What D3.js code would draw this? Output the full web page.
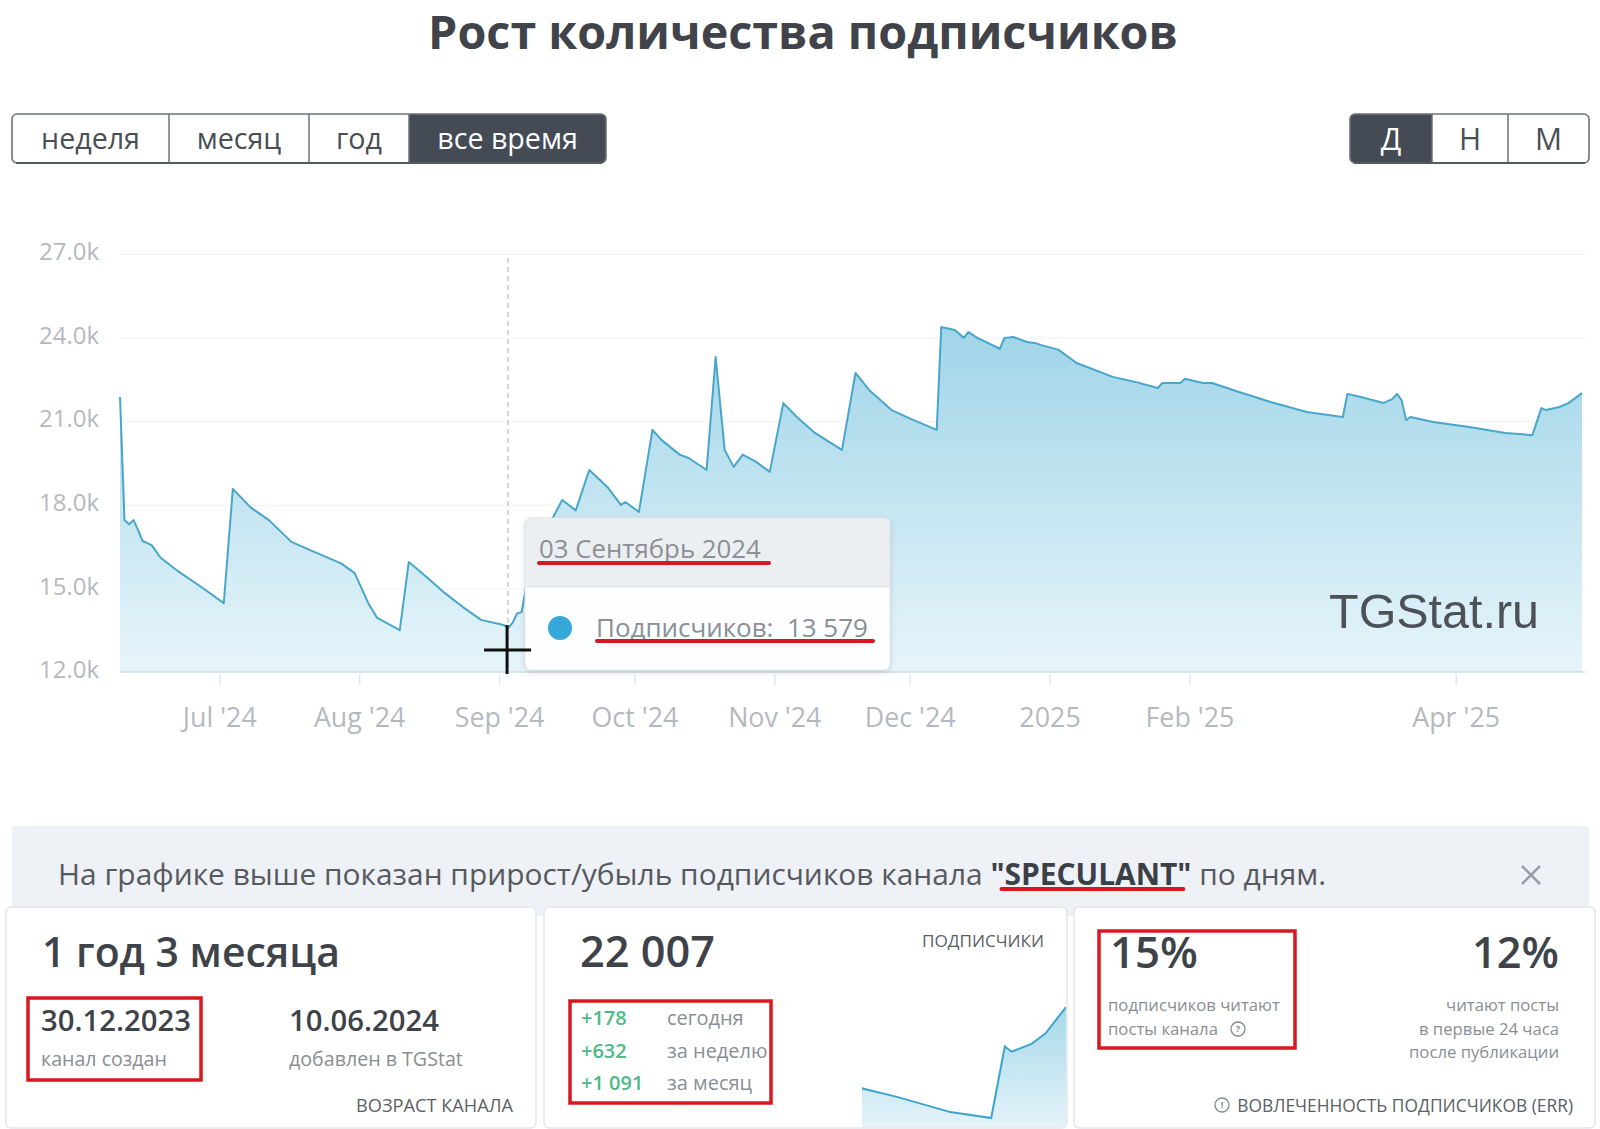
<!DOCTYPE html>
<html><head><meta charset="utf-8">
<script src="https://cdn.jsdelivr.net/npm/d3@7"></script>
<style>
html,body{margin:0;padding:0;background:#fff;overflow:hidden;}
svg{display:block;font-family:"Open Sans","Noto Sans",sans-serif;}
</style></head><body>
<svg id="chart" width="1600" height="1129"></svg>
<script>
// ---------- DATA ----------
const chartTitle = "Рост количества подписчиков";
const rangeButtons = ["неделя", "месяц", "год", "все время"];
const activeRange = "все время";
const periodButtons = ["Д", "Н", "М"];
const activePeriod = "Д";

const dates = [
  "2024-06-09","2024-06-10","2024-06-11","2024-06-12","2024-06-13","2024-06-14","2024-06-16","2024-06-18",
  "2024-06-22","2024-06-27","2024-07-02","2024-07-04","2024-07-08","2024-07-12","2024-07-17","2024-07-21",
  "2024-07-28","2024-07-31","2024-08-03","2024-08-05","2024-08-10","2024-08-12","2024-08-16","2024-08-20",
  "2024-08-24","2024-08-28","2024-09-02","2024-09-03","2024-09-04","2024-09-05","2024-09-06","2024-09-07",
  "2024-09-09","2024-09-11","2024-09-13","2024-09-15","2024-09-18","2024-09-21","2024-09-25","2024-09-28",
  "2024-09-29","2024-10-02","2024-10-05","2024-10-07","2024-10-11","2024-10-13","2024-10-17","2024-10-19",
  "2024-10-21","2024-10-23","2024-10-25","2024-10-28","2024-10-31","2024-11-03","2024-11-06","2024-11-10",
  "2024-11-16","2024-11-19","2024-11-22","2024-11-27","2024-12-01","2024-12-07","2024-12-08","2024-12-11",
  "2024-12-13","2024-12-14","2024-12-16","2024-12-21","2024-12-22","2024-12-24","2024-12-27","2024-12-29",
  "2024-12-30","2025-01-03","2025-01-07","2025-01-15","2025-01-20","2025-01-25","2025-01-26","2025-01-30",
  "2025-01-31","2025-02-04","2025-02-06","2025-02-12","2025-02-19","2025-02-27","2025-03-07","2025-03-08",
  "2025-03-11","2025-03-16","2025-03-18","2025-03-19","2025-03-20","2025-03-21","2025-03-22","2025-03-27",
  "2025-04-04","2025-04-12","2025-04-18","2025-04-20","2025-04-21","2025-04-24","2025-04-26","2025-04-29"
];
const subscribers = [
  21870,17450,17300,17450,17100,16700,16550,16100,
  15600,15050,14470,18570,17900,17450,16670,16380,
  15900,15550,14480,13940,13500,15950,15400,14830,
  14330,13870,13690,13579,13760,14100,14150,15050,
  16200,17000,17560,18170,17800,19250,18640,18000,
  18100,17740,20690,20330,19800,19680,19250,23300,
  19970,19360,19800,19540,19180,21650,21150,20580,
  19970,22730,22120,21400,21100,20690,24380,24270,
  23990,24200,23990,23600,23990,24020,23840,23800,
  23740,23560,23090,22590,22410,22190,22370,22370,
  22520,22370,22370,22050,21690,21330,21150,21980,
  21870,21650,21800,21980,21760,21040,21150,20970,
  20790,20580,20500,21470,21400,21510,21650,22007
];
const yTickValues = [12000, 15000, 18000, 21000, 24000, 27000];
const xTickDates = ["2024-07-01","2024-08-01","2024-09-01","2024-10-01","2024-11-01","2024-12-01","2025-01-01","2025-02-01","2025-04-01"];
const xTickLabels = ["Jul '24","Aug '24","Sep '24","Oct '24","Nov '24","Dec '24","2025","Feb '25","Apr '25"];

const tooltipDate = "2024-09-03";
const tooltipHeader = "03 Сентябрь 2024";
const tooltipSeriesName = "Подписчиков:";
const watermark = "TGStat.ru";

const infoPrefix = "На графике выше показан прирост/убыль подписчиков канала ";
const channelName = "SPECULANT";
const infoSuffix = " по дням.";

const ageValue = "1 год 3 месяца";
const createdDate = "30.12.2023";
const createdLabel = "канал создан";
const addedDate = "10.06.2024";
const addedLabel = "добавлен в TGStat";
const ageCaption = "ВОЗРАСТ КАНАЛА";

const subsCaption = "ПОДПИСЧИКИ";
const growthValues = ["+178", "+632", "+1 091"];
const growthLabels = ["сегодня", "за неделю", "за месяц"];
const sparkStart = "2025-03-30";

const errValue = "15%";
const errLines = ["подписчиков читают", "посты канала"];
const err24Value = "12%";
const err24Lines = ["читают посты", "в первые 24 часа", "после публикации"];
const errCaption = "ВОВЛЕЧЕННОСТЬ ПОДПИСЧИКОВ (ERR)";

// ---------- HELPERS ----------
const svg = d3.select("#chart");
const defs = svg.append("defs");
function fit(sel, target) {
  const fs = +sel.attr("font-size");
  const w = sel.node().getComputedTextLength();
  const nf = fs * target / w;
  sel.attr("font-size", nf);
  return nf;
}
const RED = "#d7181f";
const parse = d3.utcParse("%Y-%m-%d");
const series = dates.map((d, i) => ({date: parse(d), value: subscribers[i]}));

// ---------- TITLE ----------
const t = svg.append("text").attr("x", 803).attr("y", 49).attr("text-anchor", "middle")
  .attr("font-size", 44).attr("font-weight", 700).attr("fill", "#404349").text(chartTitle);
fit(t, 750);

// ---------- BUTTONS ----------
function buttonGroup(labels, active, edges, id, textBaseline) {
  const g = svg.append("g");
  const top = 114, h = 49;
  defs.append("clipPath").attr("id", id).append("rect")
    .attr("x", edges[0]).attr("y", top).attr("width", edges[edges.length-1]-edges[0]).attr("height", h).attr("rx", 5);
  const inner = g.append("g").attr("clip-path", `url(#${id})`);
  labels.forEach((lab, i) => {
    inner.append("rect").attr("x", edges[i]).attr("y", top).attr("width", edges[i+1]-edges[i]).attr("height", h)
      .attr("fill", lab === active ? "#444b55" : "#fff");
    if (i > 0) inner.append("line").attr("x1", edges[i]).attr("x2", edges[i]).attr("y1", top).attr("y2", top+h)
      .attr("stroke", "#6d7178").attr("stroke-width", 1.5);
  });
  g.append("rect").attr("x", edges[0]).attr("y", top).attr("width", edges[edges.length-1]-edges[0]).attr("height", h)
    .attr("rx", 5).attr("fill", "none").attr("stroke", "#6d7178").attr("stroke-width", 1.6);
  g.append("line").attr("x1", edges[0]+4).attr("x2", edges[edges.length-1]-4).attr("y1", top+h).attr("y2", top+h)
    .attr("stroke", "#55595f").attr("stroke-width", 2);
  const texts = labels.map((lab, i) => g.append("text").attr("x", (edges[i]+edges[i+1])/2).attr("y", textBaseline)
    .attr("text-anchor", "middle").attr("font-size", 28).attr("fill", lab === active ? "#fff" : "#4a4e55").text(lab));
  return texts;
}
const lt = buttonGroup(rangeButtons, activeRange, [12, 169, 309, 409, 606], "clipL", 149);
const bfs = fit(lt[0], 99);
lt.forEach(s => s.attr("font-size", bfs));
const rt = buttonGroup(periodButtons, activePeriod, [1350, 1432, 1508, 1589], "clipR", 150);
rt.forEach(s => s.attr("font-size", bfs * 1.05));

// ---------- MAIN CHART ----------
const X0 = 120, X1 = 1582, Y0 = 672, Y1 = 254;
const x = d3.scaleUtc().domain(d3.extent(series, d => d.date)).range([X0, X1]);
const y = d3.scaleLinear().domain([12000, 27000]).range([Y0, Y1]);

const grad = defs.append("linearGradient").attr("id", "areaGrad").attr("gradientUnits", "userSpaceOnUse")
  .attr("x1", 0).attr("x2", 0).attr("y1", 300).attr("y2", Y0);
grad.append("stop").attr("offset", 0).attr("stop-color", "#9ad2e7");
grad.append("stop").attr("offset", 1).attr("stop-color", "#e7f5fa");

// gridlines + y labels
const yAxis = svg.append("g").attr("transform", `translate(${X0},0)`)
  .call(d3.axisLeft(y).tickValues(yTickValues).tickSize(-(1585 - X0)).tickPadding(21)
    .tickFormat(d => (d / 1000).toFixed(1) + "k"));
yAxis.select(".domain").remove();
yAxis.selectAll(".tick line").attr("stroke", "#f1f2f4").attr("stroke-width", 1);
yAxis.selectAll(".tick text").attr("fill", "#b5b9bf").attr("font-size", 20).attr("y", -2)
  .attr("font-family", "'Open Sans',sans-serif");
const yfs = fit(yAxis.select(".tick:last-of-type text"), 60);
yAxis.selectAll(".tick text").attr("font-size", yfs);

// area + line
svg.append("path").datum(series).attr("fill", "url(#areaGrad)")
  .attr("d", d3.area().x(d => x(d.date)).y0(Y0).y1(d => y(d.value)));
svg.append("path").datum(series).attr("fill", "none").attr("stroke", "#47a6c9").attr("stroke-width", 2)
  .attr("stroke-linejoin", "round")
  .attr("d", d3.line().x(d => x(d.date)).y(d => y(d.value)));

// x axis
const xAxis = svg.append("g").attr("transform", `translate(0,${Y0})`)
  .call(d3.axisBottom(x).tickValues(xTickDates.map(parse)).tickSize(13)
    .tickFormat((d, i) => xTickLabels[i]));
xAxis.select(".domain").attr("stroke", "#dde3ea").attr("stroke-width", 2).attr("d", `M${X0},0H${1585}`);
xAxis.selectAll(".tick line").attr("stroke", "#e3e6ea").attr("stroke-width", 1.5).attr("y1", 2);
xAxis.selectAll(".tick text").attr("fill", "#b5b9bf").attr("font-size", 22).attr("y", 36)
  .attr("font-family", "'Open Sans',sans-serif");
const xfs = fit(xAxis.select(".tick text"), 74);
xAxis.selectAll(".tick text").attr("font-size", xfs);

// watermark
const wm = svg.append("text").attr("x", 1539).attr("y", 628).attr("text-anchor", "end")
  .attr("font-family", "'Liberation Sans',Arial,sans-serif").attr("font-size", 49).attr("fill", "#4d5258").text(watermark);
fit(wm, 210);

// crosshair
const tp = series.find(d => d3.utcFormat("%Y-%m-%d")(d.date) === tooltipDate);
const cx = x(tp.date);
svg.append("line").attr("x1", cx).attr("x2", cx).attr("y1", Y1 + 4).attr("y2", Y0)
  .attr("stroke", "#b9bcc1").attr("stroke-width", 1.2).attr("stroke-dasharray", "5,4");

// tooltip
const filt = defs.append("filter").attr("id", "shadow").attr("x", -0.1).attr("y", -0.1).attr("width", 1.2).attr("height", 1.3);
filt.append("feDropShadow").attr("dx", 0).attr("dy", 2).attr("stdDeviation", 3).attr("flood-color", "#000").attr("flood-opacity", 0.15);
const tg = svg.append("g");
const tx = 525, ty = 518, tw = 365, th = 152, hh = 69;
tg.append("rect").attr("x", tx).attr("y", ty).attr("width", tw).attr("height", th).attr("rx", 6)
  .attr("fill", "#fdfeff").attr("filter", "url(#shadow)");
defs.append("clipPath").attr("id", "ttclip").append("rect").attr("x", tx).attr("y", ty).attr("width", tw).attr("height", th).attr("rx", 6);
tg.append("rect").attr("x", tx).attr("y", ty).attr("width", tw).attr("height", hh).attr("fill", "#eceff2").attr("clip-path", "url(#ttclip)");
tg.append("line").attr("x1", tx).attr("x2", tx + tw).attr("y1", ty + hh).attr("y2", ty + hh).attr("stroke", "#dfe2e6");
tg.append("rect").attr("x", tx).attr("y", ty).attr("width", tw).attr("height", th).attr("rx", 6)
  .attr("fill", "none").attr("stroke", "#e2e5e9");
const th1 = tg.append("text").attr("x", 539).attr("y", 558).attr("font-size", 26).attr("fill", "#8c8f94")
  .text(tooltipHeader);
fit(th1, 222);
tg.append("line").attr("x1", 539).attr("x2", 769).attr("y1", 563).attr("y2", 563)
  .attr("stroke", RED).attr("stroke-width", 4).attr("stroke-linecap", "round");
tg.append("circle").attr("cx", 560).attr("cy", 628).attr("r", 12).attr("fill", "#36a8d9");
const tb = tg.append("text").attr("x", 596).attr("y", 637).attr("font-size", 26).attr("fill", "#8c8f94")
  .attr("text-decoration", "underline").attr("xml:space", "preserve")
  .text(tooltipSeriesName + "  " + d3.format(",")(tp.value).replace(/,/g, " "));
fit(tb, 272);
tg.append("line").attr("x1", 597).attr("x2", 873).attr("y1", 641).attr("y2", 641)
  .attr("stroke", RED).attr("stroke-width", 4).attr("stroke-linecap", "round");

// cursor cross
svg.append("line").attr("x1", cx - 1).attr("x2", cx - 1).attr("y1", 625).attr("y2", 674).attr("stroke", "#111").attr("stroke-width", 3);
svg.append("line").attr("x1", cx - 24).attr("x2", cx + 23).attr("y1", 650).attr("y2", 650).attr("stroke", "#111").attr("stroke-width", 3);

// ---------- INFO BAR ----------
svg.append("rect").attr("x", 12).attr("y", 826).attr("width", 1577).attr("height", 90).attr("rx", 4).attr("fill", "#eef1f5");
const info = svg.append("text").attr("x", 58).attr("y", 885).attr("font-size", 27).attr("fill", "#565a60");
info.append("tspan").text(infoPrefix);
info.append("tspan").attr("font-weight", 700).attr("fill", "#3c4046").text("\"");
const sp = info.append("tspan").attr("font-weight", 700).attr("fill", "#3c4046").text(channelName);
info.append("tspan").attr("font-weight", 700).attr("fill", "#3c4046").text("\"");
info.append("tspan").text(infoSuffix);
fit(info, 1269);
const spb = sp.node().getBBox();
svg.append("line").attr("x1", spb.x - 3).attr("x2", spb.x + spb.width + 6).attr("y1", 889).attr("y2", 889)
  .attr("stroke", RED).attr("stroke-width", 4).attr("stroke-linecap", "round");
svg.append("path").attr("d", "M1522,866L1540,884M1540,866L1522,884").attr("stroke", "#9a9ea4").attr("stroke-width", 2.5);

// ---------- CARDS ----------
const cards = [[6, 530], [544, 523], [1074, 521]];
cards.forEach(([cxx, w]) => svg.append("rect").attr("x", cxx).attr("y", 907).attr("width", w).attr("height", 221)
  .attr("rx", 5).attr("fill", "#fff").attr("stroke", "#e3e6ea").attr("stroke-width", 1.5));

const DARK = "#3e4249", GRAY = "#8a8e94", CAP = "#5b5f65", GREEN = "#4cba86";
function txt(xx, yy, s, fs, opts = {}) {
  const e = svg.append("text").attr("x", xx).attr("y", yy).attr("font-size", fs)
    .attr("fill", opts.fill || DARK).attr("font-weight", opts.weight || 400)
    .attr("text-anchor", opts.anchor || "start").text(s);
  if (opts.w) fit(e, opts.w);
  return e;
}
// card 1
txt(42, 967, ageValue, 42, {weight: 600, w: 298});
txt(41, 1031, createdDate, 28, {weight: 600, w: 150});
txt(41, 1066, createdLabel, 19, {fill: GRAY, w: 126});
txt(289, 1031, addedDate, 28, {weight: 600, w: 150});
txt(289, 1066, addedLabel, 19, {fill: GRAY, w: 174});
txt(513, 1112, ageCaption, 17, {fill: CAP, anchor: "end", w: 157});
svg.append("rect").attr("x", 28).attr("y", 998).attr("width", 173).attr("height", 82).attr("fill", "none")
  .attr("stroke", RED).attr("stroke-width", 3.5);

// card 2
txt(580, 967, d3.format(",")(series[series.length - 1].value).replace(/,/g, " "), 42, {weight: 600, w: 135});
txt(1044, 947, subsCaption, 17, {fill: CAP, anchor: "end", w: 122});
growthValues.forEach((v, i) => {
  txt(581, 1025 + i * 32.5, v, 20, {fill: GREEN, weight: 600});
  txt(667, 1025 + i * 32.5, growthLabels[i], 20, {fill: GRAY});
});
svg.append("rect").attr("x", 570).attr("y", 1001).attr("width", 201).attr("height", 102).attr("fill", "none")
  .attr("stroke", RED).attr("stroke-width", 3.5);

// sparkline
const sparkData = series.filter(d => d.date >= parse("2025-03-27"));
const sx = d3.scaleUtc().domain([parse(sparkStart), series[series.length - 1].date]).range([862, 1066]);
const sy = d3.scaleLinear().domain(d3.extent(sparkData, d => d.value)).range([1118, 1007]);
defs.append("clipPath").attr("id", "sparkclip").append("rect").attr("x", 862).attr("y", 990).attr("width", 204).attr("height", 137);
const sg = defs.append("linearGradient").attr("id", "sparkGrad").attr("x1", 0).attr("x2", 0).attr("y1", 0).attr("y2", 1);
sg.append("stop").attr("offset", 0).attr("stop-color", "#a6d8ea");
sg.append("stop").attr("offset", 1).attr("stop-color", "#e4f3f9");
const spg = svg.append("g").attr("clip-path", "url(#sparkclip)");
spg.append("path").datum(sparkData).attr("fill", "url(#sparkGrad)")
  .attr("d", d3.area().x(d => sx(d.date)).y0(1127).y1(d => sy(d.value)));
spg.append("path").datum(sparkData).attr("fill", "none").attr("stroke", "#3ea3cb").attr("stroke-width", 2)
  .attr("d", d3.line().x(d => sx(d.date)).y(d => sy(d.value)));

// card 3
txt(1110, 968, errValue, 42, {weight: 600, w: 88});
const e0 = txt(1108, 1011, errLines[0], 17, {fill: GRAY, w: 172});
const pl = txt(1108, 1035, errLines[1], +e0.attr("font-size"), {fill: GRAY});
function qicon(cx0, cy0, r, s) {
  svg.append("circle").attr("cx", cx0).attr("cy", cy0).attr("r", r).attr("fill", "none").attr("stroke", "#85898f").attr("stroke-width", 1.3);
  svg.append("text").attr("x", cx0).attr("y", cy0 + r * 0.45).attr("text-anchor", "middle").attr("font-size", r * 1.3)
    .attr("font-weight", 700).attr("fill", "#85898f").text(s);
}
qicon(1238, 1029, 7, "?");
txt(1559, 968, err24Value, 42, {weight: 600, anchor: "end", w: 87});
err24Lines.forEach((l, i) => txt(1559, 1011 + i * 23.5, l, +e0.attr("font-size"), {fill: GRAY, anchor: "end"}));
txt(1573, 1112, errCaption, 17, {fill: CAP, anchor: "end", w: 336});
qicon(1222, 1105, 7, "!");
svg.append("rect").attr("x", 1099).attr("y", 931).attr("width", 196).attr("height", 117).attr("fill", "none")
  .attr("stroke", RED).attr("stroke-width", 3.5);
</script>
</body></html>
